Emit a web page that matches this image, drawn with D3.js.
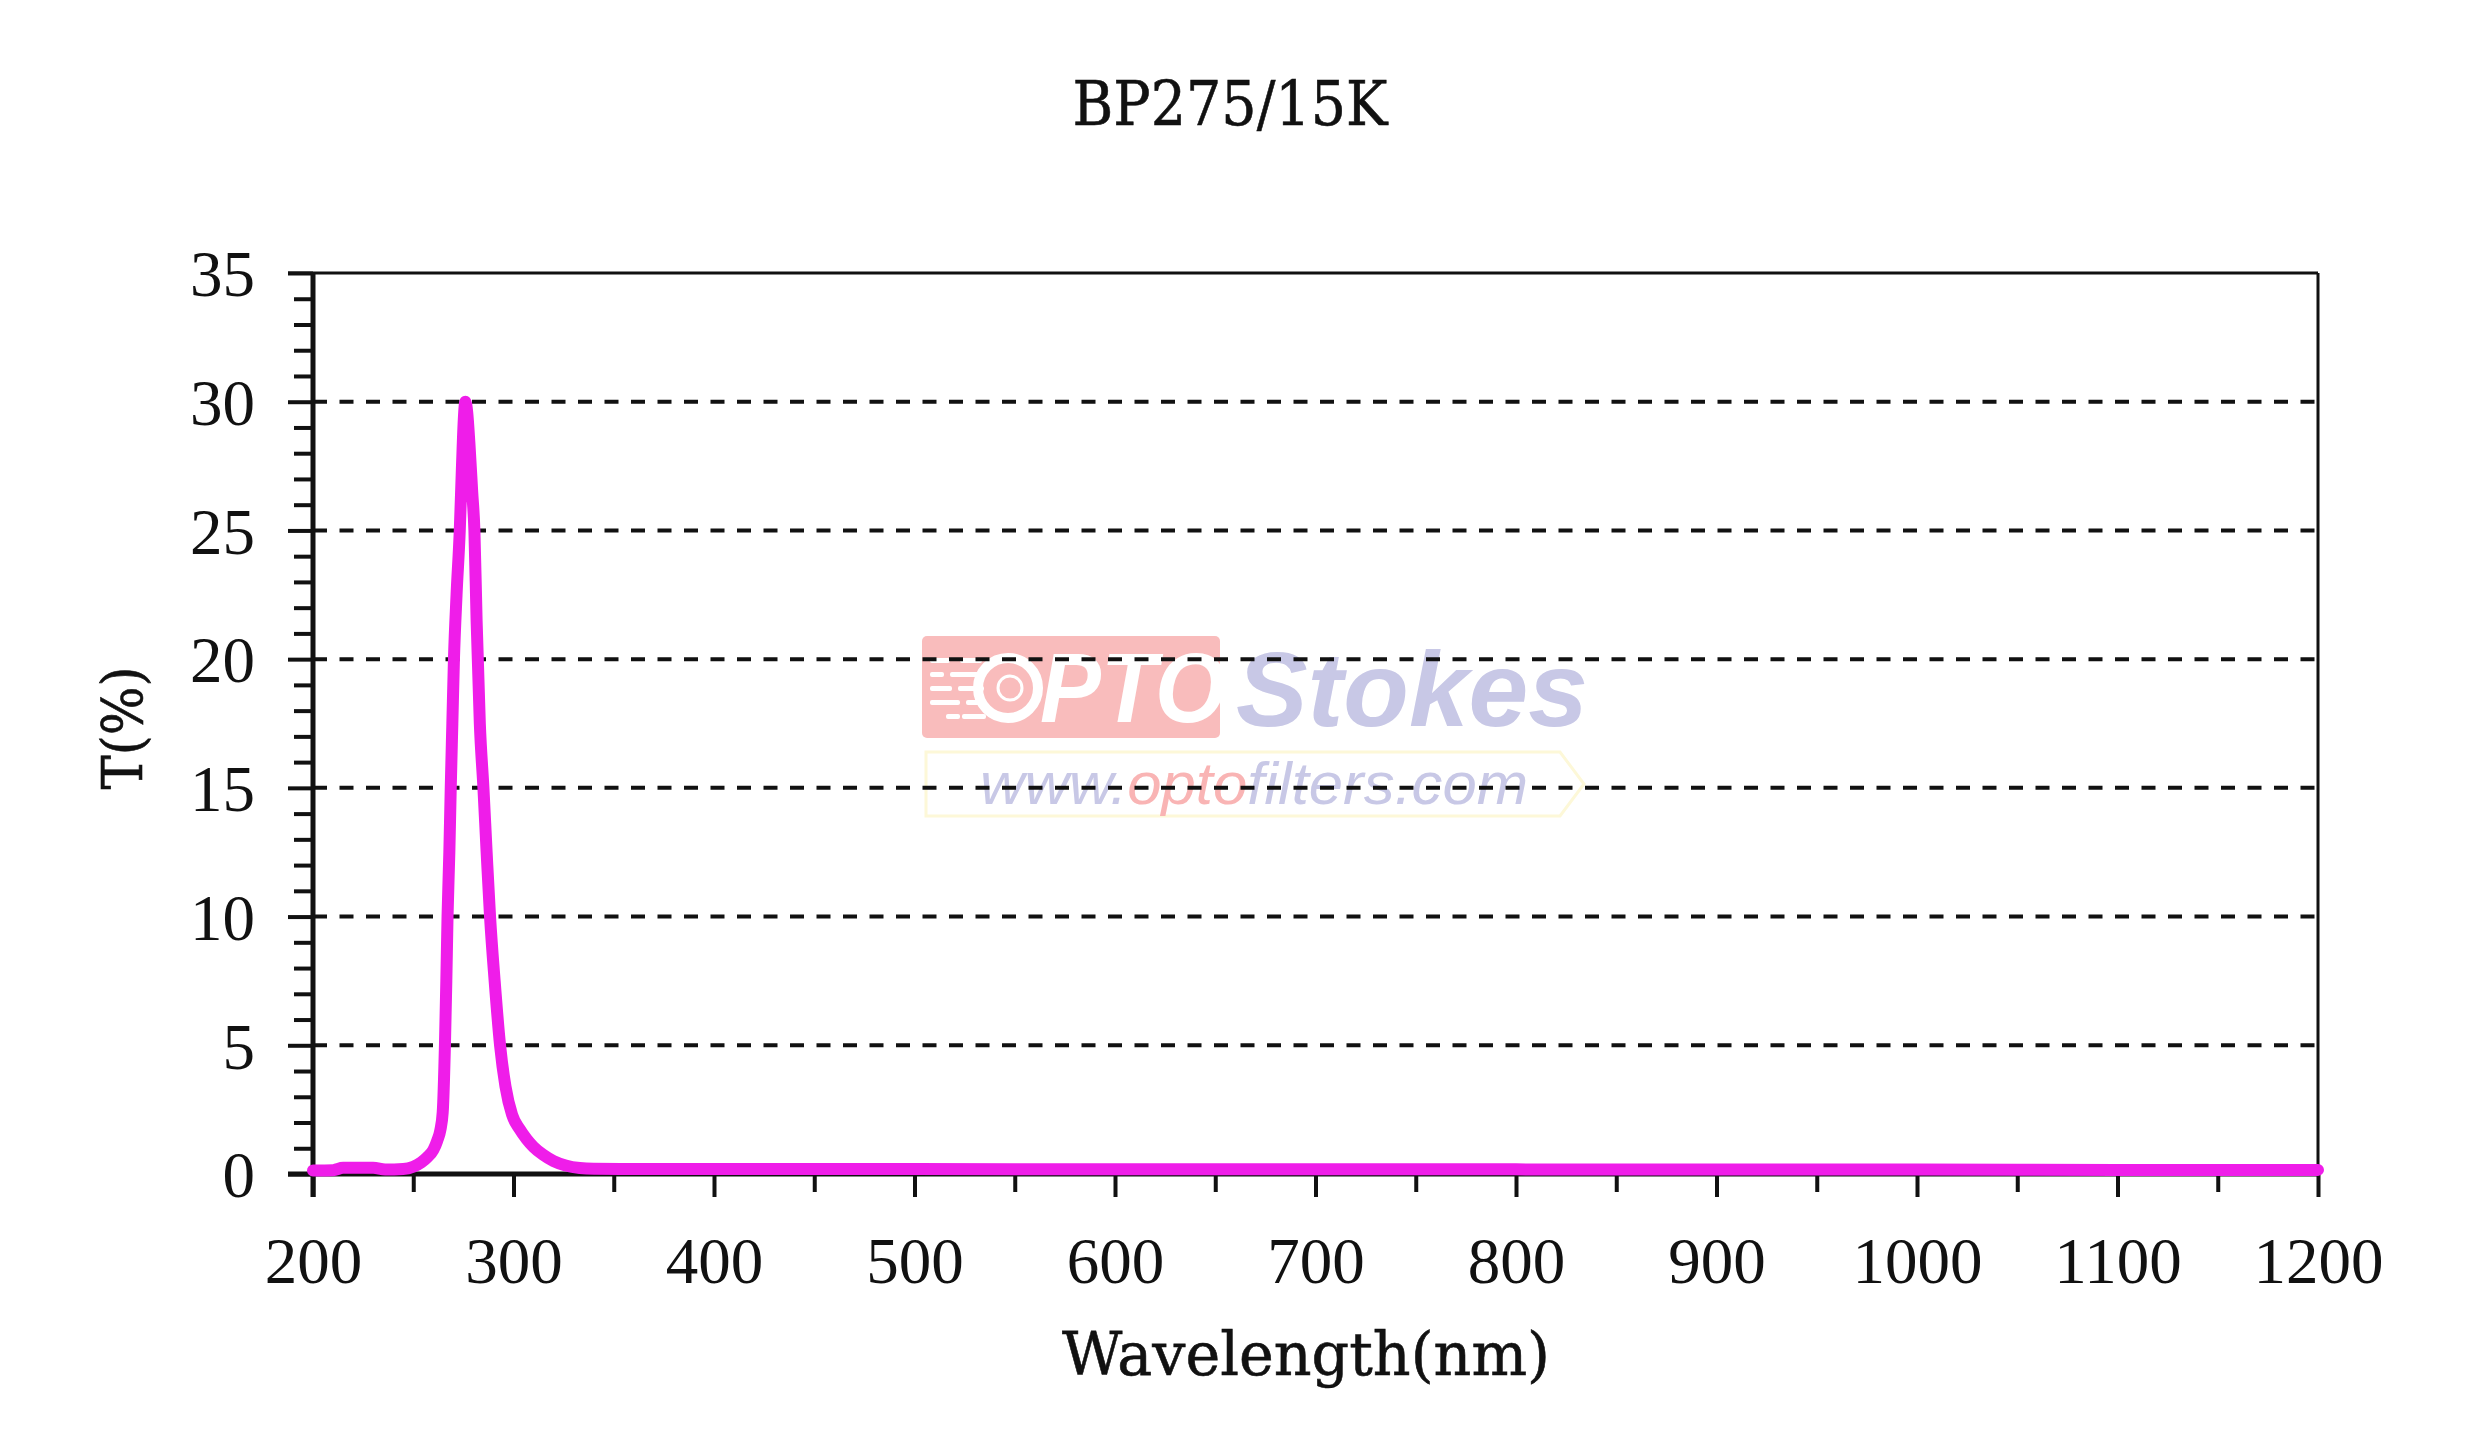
<!DOCTYPE html>
<html>
<head>
<meta charset="utf-8">
<script src="https://cdn.jsdelivr.net/npm/d3@7"></script>
<style>
  html, body { margin: 0; padding: 0; background: #fff; }
  svg { display: block; }
</style>
</head>
<body>
<svg id="chart" width="2468" height="1431"></svg>
<script>
// ---------- data ----------
const title = "BP275/15K";
const xLabel = "Wavelength(nm)";
const yLabel = "T(%)";
const xMajorTicks = [200, 300, 400, 500, 600, 700, 800, 900, 1000, 1100, 1200];
const yMajorTicks = [0, 5, 10, 15, 20, 25, 30, 35];
const gridValues = [5, 10, 15, 20, 25, 30];
const wavelength = [200, 210, 215, 230, 236, 245, 250, 254, 257, 260, 262, 263.5, 264.7, 265.8, 266.5, 267.1,
  268, 268.7, 269.5, 270.3, 271.6, 273.2, 274.3, 275.2, 276, 276.9, 278, 279.4, 280.5, 281.6, 283.2,
  285, 286.6, 288.3, 290.6, 293.3, 296, 299.3, 303, 306.6, 310, 314.7, 320, 326, 333, 340, 360, 400,
  500, 600, 700, 800, 900, 1000, 1100, 1200];
const transmission = [0.14, 0.15, 0.24, 0.24, 0.17, 0.19, 0.28, 0.45, 0.65, 0.93, 1.3, 1.7, 2.4, 5.0, 7.5, 10,
  12.5, 15, 17.5, 20, 22.5, 25, 27.5, 29.3, 30, 29.6, 28.4, 26.5, 25, 21.5, 17.5,
  15, 12.5, 10, 7.5, 5, 3.4, 2.3, 1.75, 1.35, 1.05, 0.75, 0.5, 0.33, 0.23, 0.2, 0.19, 0.19,
  0.19, 0.18, 0.18, 0.18, 0.17, 0.17, 0.16, 0.16];

// ---------- layout ----------
const svg = d3.select("#chart");
const L = 313, R = 2318, T = 273, B = 1174;
const x = d3.scaleLinear().domain([200, 1200]).range([L, R]);
const y = d3.scaleLinear().domain([0, 35]).range([B, T]);
const serifFont = "'Liberation Serif', 'Times New Roman', serif";
const labelFont = "'DejaVu Serif', 'Liberation Serif', serif";

function labelText(str, cx, cy, width, size, rotate) {
  return svg.append("text")
    .attr("transform", `translate(${cx},${cy})${rotate ? " rotate(-90)" : ""}`)
    .attr("x", -width / 2).attr("y", 0)
    .attr("textLength", width).attr("lengthAdjust", "spacingAndGlyphs")
    .style("font-family", labelFont).style("font-size", size + "px")
    .attr("fill", "#111").attr("stroke", "#111").attr("stroke-width", 0.6)
    .text(str);
}

// ---------- watermark ----------
const wm = svg.append("g").attr("class", "watermark");
wm.append("rect").attr("x", 922).attr("y", 636).attr("width", 298).attr("height", 102)
  .attr("rx", 5).attr("fill", "#f9bcbc");
[[930, 658, 20], [960, 658, 22], [930, 672, 14], [950, 672, 30], [930, 686, 22], [958, 686, 26],
 [930, 700, 30], [966, 700, 16], [946, 714, 14], [962, 714, 24]].forEach(d => {
  wm.append("rect").attr("x", d[0]).attr("y", d[1]).attr("width", d[2]).attr("height", 5)
    .attr("rx", 2).attr("fill", "#ffffff");
});
wm.append("circle").attr("cx", 1008).attr("cy", 688).attr("r", 30).attr("fill", "none")
  .attr("stroke", "#ffffff").attr("stroke-width", 10);
wm.append("circle").attr("cx", 1010).attr("cy", 688).attr("r", 12).attr("fill", "none")
  .attr("stroke", "#ffffff").attr("stroke-width", 3);
wm.append("text").attr("x", 1040).attr("y", 722).attr("textLength", 186)
  .attr("lengthAdjust", "spacingAndGlyphs")
  .style("font-family", "'Liberation Sans', Arial, sans-serif").style("font-weight", "bold")
  .style("font-style", "italic").style("font-size", "98px").attr("fill", "#ffffff").text("PTO");
wm.append("text").attr("x", 1236).attr("y", 726).attr("textLength", 352)
  .attr("lengthAdjust", "spacingAndGlyphs")
  .style("font-family", "'Liberation Sans', Arial, sans-serif").style("font-weight", "bold")
  .style("font-style", "italic").style("font-size", "106px").attr("fill", "#c8c8e6").text("Stokes");
wm.append("path").attr("d", "M926,752 H1560 L1584,784 L1560,816 H926 Z").attr("fill", "none")
  .attr("stroke", "#fdf8d8").attr("stroke-width", 3);
const url = wm.append("text").attr("x", 980).attr("y", 804).attr("textLength", 548)
  .attr("lengthAdjust", "spacingAndGlyphs")
  .style("font-family", "'Liberation Sans', Arial, sans-serif")
  .style("font-style", "italic").style("font-size", "60px");
url.append("tspan").attr("fill", "#c8c8e6").text("www.");
url.append("tspan").attr("fill", "#f9b4b4").text("opto");
url.append("tspan").attr("fill", "#c8c8e6").text("filters.com");

// ---------- grid ----------
svg.append("g").selectAll("line").data(gridValues).join("line")
  .attr("x1", L).attr("x2", R).attr("y1", d => y(d)).attr("y2", d => y(d))
  .attr("stroke", "#111").attr("stroke-width", 4).attr("stroke-dasharray", "14 12.5");

// ---------- frame ----------
svg.append("line").attr("x1", L - 25).attr("x2", R).attr("y1", T).attr("y2", T)
  .attr("stroke", "#111").attr("stroke-width", 3);
svg.append("line").attr("x1", R).attr("x2", R).attr("y1", T).attr("y2", B)
  .attr("stroke", "#111").attr("stroke-width", 3);

// ---------- axes ----------
const xMinor = d3.range(250, 1200, 100);
const yMinor = d3.range(0, 36, 1).filter(v => v % 5 !== 0);

const xMinorAxis = svg.append("g").attr("transform", `translate(0,${B})`)
  .call(d3.axisBottom(x).tickValues(xMinor).tickSize(18).tickFormat(""));
const xAxis = svg.append("g").attr("transform", `translate(0,${B})`)
  .call(d3.axisBottom(x).tickValues(xMajorTicks).tickSize(23).tickFormat(d3.format("d")));
const yMinorAxis = svg.append("g").attr("transform", `translate(${L},0)`)
  .call(d3.axisLeft(y).tickValues(yMinor).tickSize(19).tickFormat(""));
const yAxis = svg.append("g").attr("transform", `translate(${L},0)`)
  .call(d3.axisLeft(y).tickValues(yMajorTicks).tickSize(25).tickFormat(d3.format("d")));

[xMinorAxis, xAxis, yMinorAxis, yAxis].forEach(g => {
  g.select(".domain").remove();
  g.selectAll(".tick line").attr("stroke", "#111").attr("stroke-width", 4);
});
xAxis.selectAll(".tick text").attr("y", 109).attr("dy", 0)
  .style("font-family", serifFont).style("font-size", "65px").attr("fill", "#111");
yAxis.selectAll(".tick text").attr("x", -58).attr("dy", "0.35em")
  .style("font-family", serifFont).style("font-size", "65px").attr("fill", "#111");

// axis lines (thick)
svg.append("line").attr("x1", L).attr("x2", L).attr("y1", T).attr("y2", B + 23)
  .attr("stroke", "#111").attr("stroke-width", 5);
svg.append("line").attr("x1", L - 25).attr("x2", R).attr("y1", B).attr("y2", B)
  .attr("stroke", "#111").attr("stroke-width", 5);

// ---------- curve ----------
const data = wavelength.map((w, i) => ({ w, t: transmission[i] }));
const line = d3.line().x(d => x(d.w)).y(d => y(d.t)).curve(d3.curveMonotoneX);
svg.append("path").datum(data).attr("d", line).attr("fill", "none")
  .attr("stroke", "#ef1de9").attr("stroke-width", 12)
  .attr("stroke-linejoin", "round").attr("stroke-linecap", "round");

// ---------- titles ----------
labelText(title, 1230, 125, 315, 62, false);
labelText(xLabel, 1306, 1375, 488, 60, false);
labelText(yLabel, 142, 728, 123, 56, true);
</script>
</body>
</html>
